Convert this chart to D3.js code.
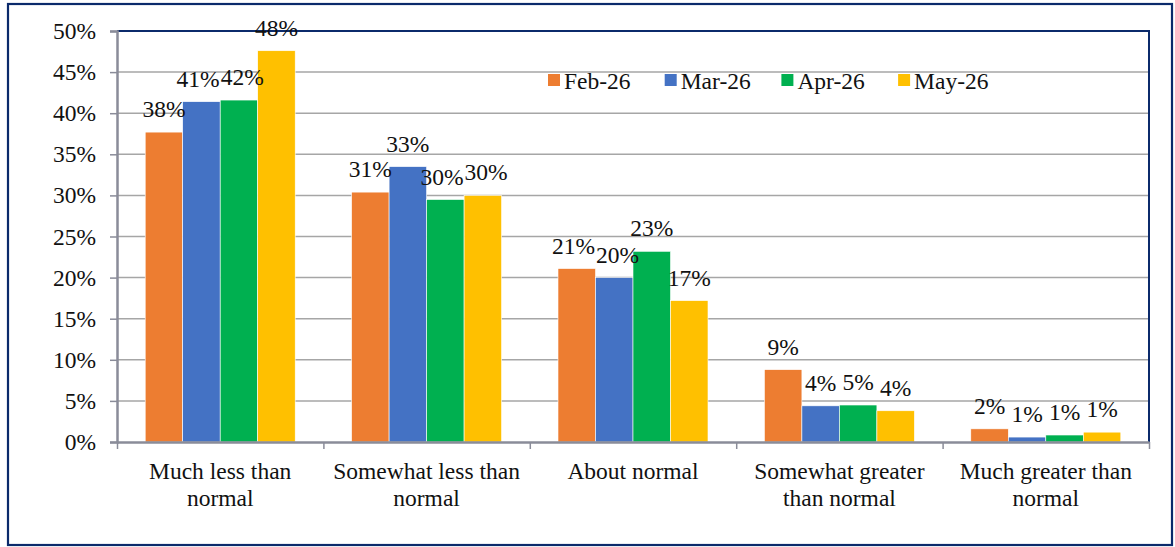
<!DOCTYPE html>
<html><head><meta charset="utf-8">
<script src="https://cdn.jsdelivr.net/npm/d3@7"></script>
<style>
html,body{margin:0;padding:0;background:#fff;}
svg{display:block;}
</style></head>
<body><svg id="c" width="1175" height="547"></svg>
<script>
const categories = [["Much less than","normal"],["Somewhat less than","normal"],["About normal"],["Somewhat greater","than normal"],["Much greater than","normal"]];
const seriesNames = ["Feb-26","Mar-26","Apr-26","May-26"];
const feb = [37.7, 30.4, 21.1, 8.8, 1.6];
const mar = [41.4, 33.5, 20.0, 4.4, 0.6];
const apr = [41.6, 29.5, 23.2, 4.5, 0.85];
const may = [47.6, 30.0, 17.2, 3.8, 1.2];
const febLabels = ["38%","31%","21%","9%","2%"];
const marLabels = ["41%","33%","20%","4%","1%"];
const aprLabels = ["42%","30%","23%","5%","1%"];
const mayLabels = ["48%","30%","17%","4%","1%"];
const yTicks = [0,5,10,15,20,25,30,35,40,45,50];
const colors = ["#ED7D31","#4472C4","#00B050","#FFC000"];

(function(){
const FONT = "Liberation Serif";
const series = [feb, mar, apr, may];
const labels = [febLabels, marLabels, aprLabels, mayLabels];

const svg = d3.select("#c");
const pL = 117, pR = 1149, pT = 31, pB = 442;
const fs = 23.5;

svg.append("rect").attr("x",8).attr("y",4).attr("width",1164).attr("height",541)
  .attr("fill","#fff").attr("stroke","#0B2A6B").attr("stroke-width",2.2);

const y = d3.scaleLinear().domain([0,50]).range([pB, pT]);
const x0 = d3.scaleBand().domain(d3.range(categories.length)).range([pL, pR]).paddingInner(0).paddingOuter(0);
const groupPad = x0.bandwidth() * (56.4/206.4) / 2;
const x1 = d3.scaleBand().domain(d3.range(series.length)).range([groupPad, x0.bandwidth()-groupPad]).padding(0);

// gridlines
svg.append("g").selectAll("line").data(yTicks.filter(t=>t>0 && t<50)).join("line")
  .attr("x1",pL).attr("x2",pR).attr("y1",d=>y(d)).attr("y2",d=>y(d))
  .attr("stroke","#A6A6A6").attr("stroke-width",1.5);

// plot border top/right
svg.append("path").attr("d",`M${pL},${pT}H${pR}V${pB}`).attr("fill","none")
  .attr("stroke","#0B2A6B").attr("stroke-width",2);

// bars
const bars = svg.append("g");
series.forEach((s, si) => {
  bars.selectAll(null).data(s).join("rect")
    .attr("x",(d,i)=>x0(i)+x1(si)).attr("width",x1.bandwidth())
    .attr("y",d=>y(d)).attr("height",d=>pB-y(d))
    .attr("fill",colors[si]).attr("stroke","#fff").attr("stroke-width",0.6);
});

// y axis
const yAxis = d3.axisLeft(y).tickValues(yTicks).tickFormat(d=>d+"%").tickSize(7).tickPadding(14);
const ya = svg.append("g").attr("transform",`translate(${pL},0)`).call(yAxis);
ya.attr("font-family",null).attr("font-size",null);
ya.select(".domain").attr("stroke","#8A8C99").attr("stroke-width",2.5);
ya.selectAll(".tick line").attr("stroke","#8A8C99").attr("stroke-width",1.5);
ya.selectAll("text").style("font-size",fs+"px").style("font-family",FONT).attr("fill","#111");

// x axis
const xAxis = d3.axisBottom(d3.scaleLinear().domain([0,categories.length]).range([pL,pR]))
  .tickValues(d3.range(categories.length+1)).tickFormat("").tickSize(7).tickSizeOuter(0);
const xa = svg.append("g").attr("transform",`translate(0,${pB})`).call(xAxis);
xa.select(".domain").attr("stroke","#8A8C99").attr("stroke-width",2.5);
xa.selectAll(".tick line").attr("stroke","#8A8C99").attr("stroke-width",1.5);

// category labels
const cl = svg.append("g").selectAll("text").data(categories).join("text")
  .attr("x",(d,i)=>x0(i)+x0.bandwidth()/2).attr("y",479)
  .attr("text-anchor","middle").attr("fill","#111")
  .style("font-size",fs+"px").style("font-family",FONT);
cl.selectAll("tspan").data(d=>d).join("tspan")
  .attr("x",function(){return this.parentNode.getAttribute("x");})
  .attr("dy",(d,i)=>i===0?0:27).text(d=>d);

// data labels
const dl = svg.append("g");
const groups = categories.map(()=>[]);
series.forEach((s, si) => {
  dl.selectAll(null).data(s).join("text")
    .attr("x",(d,i)=>x0(i)+x1(si)+x1.bandwidth()/2)
    .attr("y",d=>y(d)-15)
    .attr("text-anchor","middle").attr("fill","#111")
    .style("font-size",fs+"px").style("font-family",FONT)
    .text((d,i)=>labels[si][i])
    .each(function(d,i){ groups[i].push(this); });
});
// nudge overlapping neighbours apart horizontally
groups.forEach(g => {
  for (let k = 0; k < 4; k++) {
    for (let j = 0; j < g.length-1; j++) {
      const a = g[j].getBBox(), b = g[j+1].getBBox();
      const vOver = Math.abs(a.y - b.y) < a.height*0.75;
      const hOver = a.x + a.width + 1 - b.x;
      if (vOver && hOver > 0) {
        g[j].setAttribute("x", +g[j].getAttribute("x") - hOver/2);
        g[j+1].setAttribute("x", +g[j+1].getAttribute("x") + hOver/2);
      }
    }
  }
});

// legend
const lg = svg.append("g").attr("transform","translate(548,74)");
const item = lg.selectAll("g").data(seriesNames).join("g")
  .attr("transform",(d,i)=>`translate(${i*116.7},0)`);
item.append("rect").attr("width",12).attr("height",12).attr("fill",(d,i)=>colors[i]);
item.append("text").attr("x",16).attr("y",15).attr("fill","#111")
  .style("font-size",fs+"px").style("font-family",FONT).text(d=>d);
})();
</script></body></html>
